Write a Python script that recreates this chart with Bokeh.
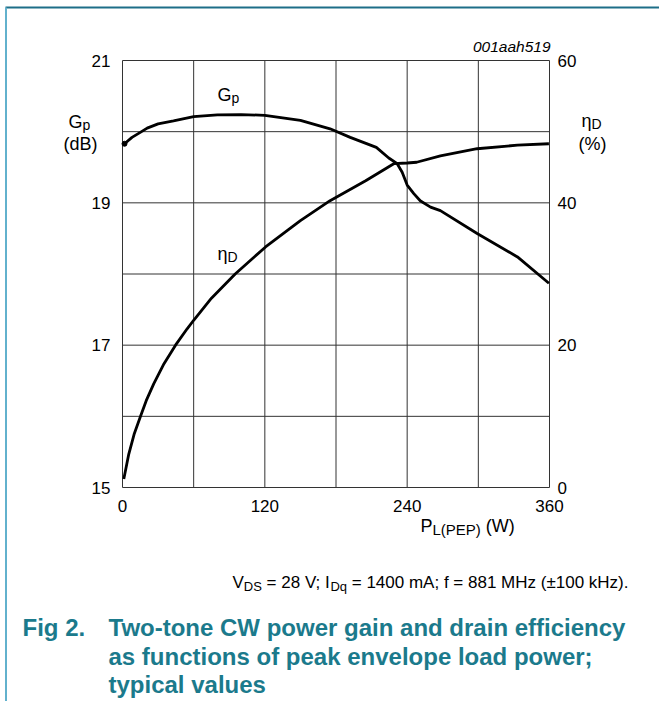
from bokeh.plotting import figure
from bokeh.models import Range1d, LinearAxis, FixedTicker, Label
from bokeh.embed import file_html
from bokeh.resources import INLINE

# ---------------- data ----------------
gp_power = [1.7, 8, 15, 20.8, 30, 43, 60, 80, 100, 120, 150, 175, 192, 214,
            224.5, 231.6, 235.8, 240, 245.6, 251, 259.7, 268, 299, 333, 359.5]
gp_gain = [19.83, 19.92, 19.99, 20.05, 20.11, 20.15, 20.21, 20.235, 20.24, 20.23,
           20.16, 20.04, 19.92, 19.78, 19.63, 19.55, 19.43, 19.25, 19.13, 19.03,
           18.94, 18.89, 18.57, 18.24, 17.87]
eta_power = [1.1, 5.3, 10, 15.2, 20, 26.4, 35, 44.7, 54.5, 60, 75, 95, 120.6, 150,
             175, 205, 228.7, 240, 248, 268, 299, 333, 359.5]
eta_eff = [1.2, 4.7, 7.6, 10, 12.2, 14.6, 17.4, 20, 22.3, 23.5, 26.6, 30, 33.8, 37.5,
           40.3, 43.1, 45.5, 45.6, 45.7, 46.6, 47.6, 48.1, 48.3]

x_ticks = [0, 120, 240, 360]
x_grid = [0, 60, 120, 180, 240, 300, 360]
gp_ticks = [15, 17, 19, 21]
gp_grid = [15, 16, 17, 18, 19, 20, 21]
eta_ticks = [0, 20, 40, 60]

# ---------------- layout: whole canvas is the frame ----------------
CW, CH = 659, 701
PX0, PX1 = 122, 549     # canvas x of P = 0 and P = 360
PY0, PY1 = 60, 487      # canvas y of top (21 dB) and bottom (15 dB)
XMIN, XMAX = x_grid[0], x_grid[-1]
GMIN, GMAX = gp_grid[0], gp_grid[-1]
EMIN, EMAX = eta_ticks[0], eta_ticks[-1]
kx = (XMAX - XMIN) / (PX1 - PX0)
kg = (GMAX - GMIN) / (PY1 - PY0)
ke = (EMAX - EMIN) / (PY1 - PY0)

FONT = "Liberation Sans"
TEAL = "#1b7a8c"
TEXT_DY = -7            # baseline correction for labels

p = figure(width=CW, height=CH,
           x_range=Range1d(XMIN - PX0 * kx, XMAX + (CW - PX1) * kx),
           y_range=Range1d(GMIN - (CH - PY1) * kg, GMAX + PY0 * kg),
           output_backend="svg", toolbar_location=None,
           min_border=0)
p.extra_y_ranges = {"eta": Range1d(EMIN - (CH - PY1) * ke, EMAX + PY0 * ke)}
p.outline_line_color = None
p.background_fill_color = "white"
p.border_fill_color = "white"
p.grid.visible = False

def style_axis(ax, standoff):
    ax.axis_line_color = None
    ax.major_tick_line_color = None
    ax.minor_tick_line_color = None
    ax.major_tick_out = 0
    ax.major_tick_in = 0
    ax.major_label_text_font = FONT
    ax.major_label_text_font_size = "17px"
    ax.major_label_text_color = "black"
    ax.major_label_standoff = standoff

p.xaxis.ticker = FixedTicker(ticks=x_ticks)
p.xaxis.fixed_location = GMIN
p.yaxis.ticker = FixedTicker(ticks=gp_ticks)
p.yaxis.fixed_location = XMIN
style_axis(p.xaxis[0], 12)
style_axis(p.yaxis[0], 12)
raxis = LinearAxis(y_range_name="eta", ticker=FixedTicker(ticks=eta_ticks),
                   fixed_location=XMAX)
style_axis(raxis, 8)
p.add_layout(raxis, "right")

# grid (vertical every 60 W, horizontal every 1 dB) inside the chart box
nx, ny = len(x_grid), len(gp_grid)
p.segment(x0=x_grid, y0=[GMIN] * nx, x1=x_grid, y1=[GMAX] * nx,
          line_color="#333333", line_width=1)
p.segment(x0=[XMIN] * ny, y0=gp_grid, x1=[XMAX] * ny, y1=gp_grid,
          line_color="#333333", line_width=1)

# curves
p.line(gp_power, gp_gain, line_width=2.8, color="black")
p.scatter([gp_power[0]], [gp_gain[0]], size=5, color="black")
p.line(eta_power, eta_eff, y_range_name="eta", line_width=2.8, color="black")

# ---------------- text helpers ----------------
def X(px):
    return XMIN + (px - PX0) * kx

def Y(py):
    return GMIN + (PY1 - py) * kg

# page frame lines
p.segment(x0=[X(5)], y0=[Y(7)], x1=[X(CW + 2)], y1=[Y(7)], line_color="#1d6e88", line_width=2)
p.segment(x0=[X(5.5)], y0=[Y(7)], x1=[X(5.5)], y1=[Y(CH + 2)], line_color="#62b1cd", line_width=2)

WID = {' ': 278, '(': 333, ')': 333, '.': 278, ';': 278, '=': 584, '±': 584, '%': 889,
       'A': 667, 'B': 667, 'D': 722, 'E': 667, 'G': 778, 'H': 722, 'I': 278, 'L': 556,
       'M': 833, 'P': 667, 'S': 667, 'V': 667, 'W': 944, 'a': 556, 'd': 556, 'f': 278,
       'k': 500, 'm': 833, 'p': 556, 'q': 556, 'z': 500, 'η': 556}

def tw(s, size):
    return sum(WID.get(c, 556) for c in s) * size / 1000

def label(px, py, text, size, align="left", color="black", bold=False, italic=False):
    style = "bold" if bold else ("italic" if italic else "normal")
    p.add_layout(Label(x=X(px), y=Y(py + TEXT_DY), text=text, text_font=FONT,
                       text_font_size=f"{size}px", text_font_style=style,
                       text_color=color, text_align=align, text_baseline="alphabetic"))

def run(parts, x0, base):
    x = x0
    for text, size, dy in parts:
        lead = len(text) - len(text.lstrip(' '))
        x += tw(' ' * lead, size)
        body = text.strip(' ')
        label(x, base + dy, body, size)
        x += tw(body, size) + tw(' ' * (len(text) - lead - len(body)), size)

# chart id
label(550, 53, "001aah519", 15.5, align="right", italic=True)

# axis titles
run([("G", 18, 0), ("p", 14, 3)], 68, 128)
label(80, 150, "(dB)", 18, align="center")
run([("η", 18, 0), ("D", 14, 3)], 581, 127)
label(592, 150, "(%)", 18, align="center")
run([("P", 18, 0), ("L(PEP)", 15, 4), (" (W)", 18, 0)], 420, 532)

# curve labels
run([("G", 18, 0), ("p", 14, 3)], 217, 101)
run([("η", 18, 0), ("D", 14, 3)], 217, 260)

# caption
run([("V", 17, 0), ("DS", 13, 4), (" = 28 V; I", 17, 0), ("Dq", 13, 4),
     (" = 1400 mA; f = 881 MHz (±100 kHz).", 17, 0)], 232, 589)

label(22, 634, "Fig 2.", 24, color=TEAL, bold=True)
label(108, 634, "Two-tone CW power gain and drain efficiency", 24, color=TEAL, bold=True)
label(108, 663, "as functions of peak envelope load power;", 24, color=TEAL, bold=True)
label(108, 691, "typical values", 24, color=TEAL, bold=True)

open("out.html", "w").write(file_html(p, INLINE))
